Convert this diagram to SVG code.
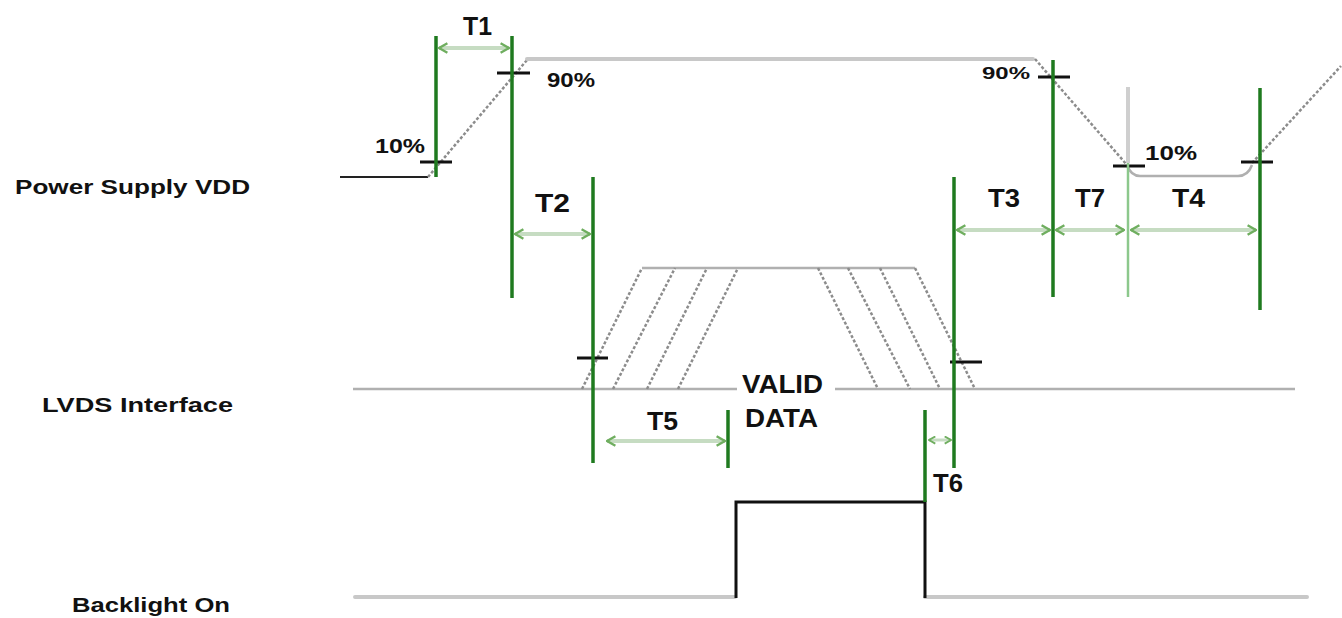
<svg xmlns="http://www.w3.org/2000/svg" width="1342" height="618" viewBox="0 0 1342 618">
<style>
text{font-family:"Liberation Sans",Arial,sans-serif;fill:#111;font-weight:bold}
.lbl{font-size:20px}
.t{font-size:25px}
.pct{font-size:20px}
.wave{fill:none;stroke:#c8c8c8;stroke-width:4;stroke-linecap:round}
.thin{fill:none;stroke:#b0b0b0;stroke-width:2.5}
.slope{fill:none;stroke:#8c8c8c;stroke-width:2.5;stroke-dasharray:3 2}
.gv{stroke:#1f7a1f;stroke-width:3.5}
.gvl{stroke:#8cc88c;stroke-width:2.5}
.tick{stroke:#111;stroke-width:3}
.arr{stroke:#c6dcc2;stroke-width:4;marker-start:url(#ah0);marker-end:url(#ah1)}
.bl{fill:none;stroke:#111;stroke-width:3}
</style>
<defs>
<marker id="ah1" viewBox="0 0 10 10" refX="9" refY="5" markerWidth="3" markerHeight="3" orient="auto" markerUnits="strokeWidth">
<path d="M2,1 L9,5 L2,9" fill="none" stroke="#6fae5f" stroke-width="2"/>
</marker>
<marker id="ah0" viewBox="0 0 10 10" refX="1" refY="5" markerWidth="3" markerHeight="3" orient="auto" markerUnits="strokeWidth">
<path d="M8,1 L1,5 L8,9" fill="none" stroke="#6fae5f" stroke-width="2"/>
</marker>
</defs>
<rect width="1342" height="618" fill="#fff"/>

<g id="labels">
<text class="lbl" x="15" y="194" textLength="235" lengthAdjust="spacingAndGlyphs">Power Supply VDD</text>
<text class="lbl" x="42" y="412" textLength="191" lengthAdjust="spacingAndGlyphs">LVDS Interface</text>
<text class="lbl" x="72" y="612" textLength="158" lengthAdjust="spacingAndGlyphs">Backlight On</text>
</g>

<g id="vdd">
<path d="M340,177 L428,177" fill="none" stroke="#222" stroke-width="2"/>
<path class="slope" d="M428,177 L527,60"/>
<path class="wave" d="M527,59 L1033,59"/>
<path class="slope" d="M1035,59 L1127,165"/>
<path class="thin" d="M1127,165 Q1131,176 1140,176 L1238,176 Q1248,176 1252,165"/>
<path class="slope" d="M1252,163 L1341,66"/>
<text class="pct" x="375" y="153" textLength="50" lengthAdjust="spacingAndGlyphs">10%</text>
<text class="pct" x="547" y="87" textLength="48" lengthAdjust="spacingAndGlyphs">90%</text>
<text x="982" y="79" style="font-size:17px" textLength="48" lengthAdjust="spacingAndGlyphs">90%</text>
<text class="pct" x="1145" y="160" textLength="52" lengthAdjust="spacingAndGlyphs">10%</text>
<line class="tick" x1="420" y1="162" x2="452" y2="162"/>
<line class="tick" x1="497" y1="73" x2="530" y2="73"/>
<line class="tick" x1="1038" y1="77" x2="1070" y2="77"/>
<line class="tick" x1="1113" y1="166" x2="1145" y2="166"/>
<line class="tick" x1="1241" y1="162" x2="1273" y2="162"/>
</g>

<g id="lvds">
<path class="thin" d="M353,389 L737,389 M835,389 L1295,389"/>
<path class="thin" d="M642,268 L915,268"/>
<path class="slope" d="M582,389 L642,268 M613,389 L675,268 M647,389 L707,268 M678,389 L738,268"/>
<path class="slope" d="M818,268 L878,389 M848,268 L910,389 M880,268 L940,389 M915,268 L975,389"/>
<line class="tick" x1="577" y1="358" x2="608" y2="358"/>
<line class="tick" x1="950" y1="362" x2="982" y2="362"/>
<text x="742" y="393" style="font-size:26px" textLength="81" lengthAdjust="spacingAndGlyphs">VALID</text>
<text x="745" y="427" style="font-size:26px" textLength="73" lengthAdjust="spacingAndGlyphs">DATA</text>
</g>

<g id="backlight">
<path class="wave" d="M355,597 L735,597 M925,597 L1307,597"/>
<path class="bl" d="M736,598 L736,502 L925,502 L925,598"/>
</g>

<g id="connectors">
<line class="gv" x1="436" y1="36" x2="436" y2="177"/>
<line class="gv" x1="512" y1="36" x2="512" y2="298"/>
<line class="gv" x1="593" y1="177" x2="593" y2="463"/>
<line class="gv" x1="728" y1="410" x2="728" y2="468"/>
<line class="gv" x1="925" y1="410" x2="925" y2="502"/>
<line class="gv" x1="954" y1="177" x2="954" y2="468"/>
<line class="gv" x1="1053" y1="60" x2="1053" y2="297"/>
<line x1="1128" y1="87" x2="1128" y2="163" stroke="#cfcfcf" stroke-width="4"/>
<line class="gvl" x1="1128" y1="163" x2="1128" y2="297"/>
<line class="gv" x1="1260" y1="88" x2="1260" y2="310"/>
<line class="arr" x1="439" y1="48" x2="509" y2="48"/>
<line class="arr" x1="515" y1="234" x2="590" y2="234"/>
<line class="arr" x1="957" y1="230" x2="1050" y2="230"/>
<line class="arr" x1="1056" y1="230" x2="1124" y2="230"/>
<line class="arr" x1="1131" y1="230" x2="1256" y2="230"/>
<line class="arr" x1="607" y1="441" x2="725" y2="441"/>
<line class="arr" x1="929" y1="440" x2="951" y2="440" style="stroke-width:3"/>
<text class="t" x="463" y="35" textLength="29" lengthAdjust="spacingAndGlyphs">T1</text>
<text class="t" x="535" y="212" textLength="35" lengthAdjust="spacingAndGlyphs">T2</text>
<text class="t" x="988" y="207" textLength="32" lengthAdjust="spacingAndGlyphs">T3</text>
<text class="t" x="1075" y="207" textLength="30" lengthAdjust="spacingAndGlyphs">T7</text>
<text class="t" x="1172" y="207" textLength="33" lengthAdjust="spacingAndGlyphs">T4</text>
<text class="t" x="647" y="430" textLength="31" lengthAdjust="spacingAndGlyphs">T5</text>
<text class="t" x="933" y="492" textLength="30" lengthAdjust="spacingAndGlyphs">T6</text>
</g>
</svg>
